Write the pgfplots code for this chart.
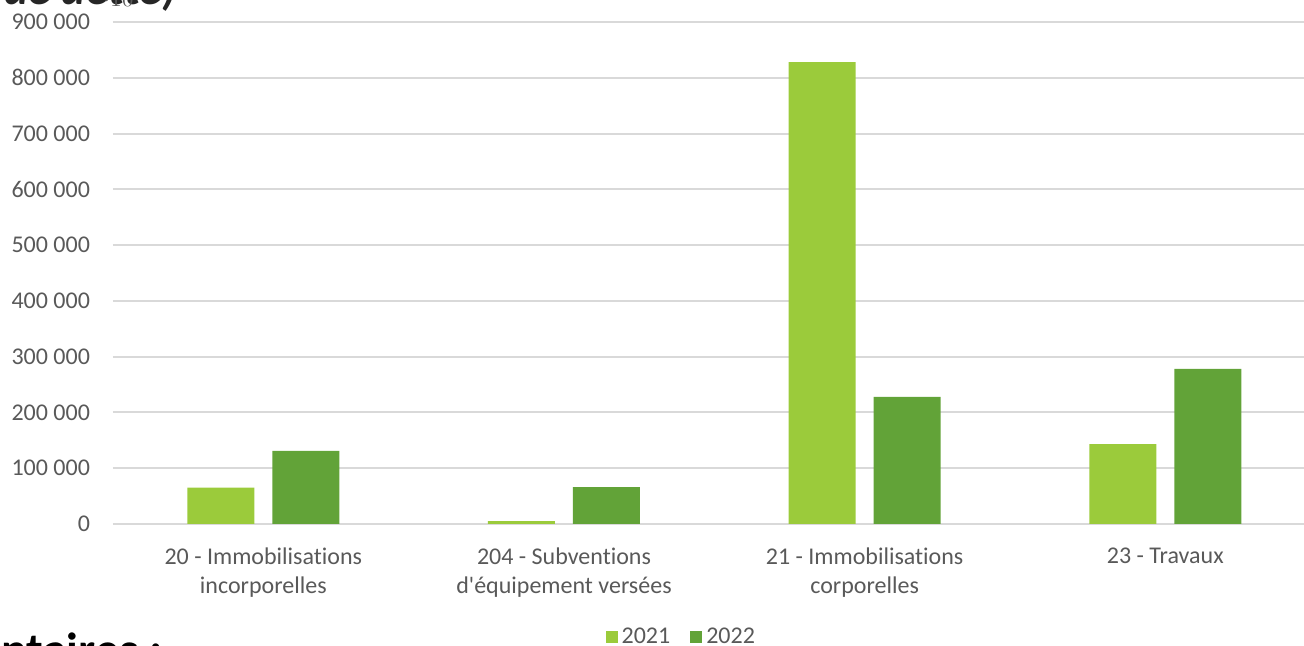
\documentclass[border=0pt]{standalone}
\usepackage{pgfplots}
\pgfplotsset{compat=1.18}
\usepackage{fontspec}
\setmainfont{Carlito}[Ligatures={TeXOff,NoCommon}]
\definecolor{vert21}{HTML}{9BCB3B}
\definecolor{vert22}{HTML}{62A338}
\definecolor{grille}{HTML}{D9D9D9}
\definecolor{texte}{HTML}{595959}

\begin{document}
\begin{tikzpicture}
\useasboundingbox (-56.5pt,-61pt) rectangle (595.5pt,262pt);
\clip (-56.5pt,-61pt) rectangle (595.5pt,262pt);
% bouts de texte du document autour du graphique
\node[anchor=base east, inner sep=0pt, font=\fontsize{23}{27}\selectfont\bfseries\itshape, text=black!85]
  at (32pt,259.5pt) {(hors remboursement de dette)};
\node[anchor=base east, inner sep=0pt, font=\fontsize{24}{28}\selectfont\bfseries, text=black]
  at (25pt,-71pt) {Commentaires :};
\begin{axis}[
  at={(0,0)}, anchor=south west,
  scale only axis,
  width=595.5pt, height=251pt,
  xmin=-0.5, xmax=3.4614,
  ymin=0, ymax=900000,
  axis line style={draw=none},
  tick style={draw=none},
  ymajorgrids,
  major grid style={grille, line width=1pt},
  ytick={0,100000,200000,300000,400000,500000,600000,700000,800000,900000},
  yticklabels={0,100 000,200 000,300 000,400 000,500 000,600 000,700 000,800 000,900 000},
  xtick={0,1,2,3},
  xticklabels={{20 - Immobilisations\\incorporelles},{204 - Subventions\\d'équipement versées},{21 - Immobilisations\\corporelles},{23 - Travaux}},
  xticklabel style={align=center, font=\fontsize{12}{14.5}\selectfont, text=texte, yshift=-8.5pt},
  yticklabel style={font=\fontsize{12}{14}\selectfont, text=texte, xshift=-8pt},
  legend style={at={(0.478,-0.225)}, anchor=center, draw=none, fill=none,
    font=\fontsize{12}{14}\selectfont, text=texte,
    /tikz/every even column/.append style={column sep=8pt}},
  legend columns=2,
  legend image code/.code={\fill[#1] (0pt,-3pt) rectangle (6pt,3pt);},
]
\addplot[ybar, bar width=33.5pt, bar shift=-21.25pt, fill=vert21, draw=none]
  coordinates {(0,65000) (1,5000) (2,828000) (3,143000)};
\addplot[ybar, bar width=33.5pt, bar shift=21.25pt, fill=vert22, draw=none]
  coordinates {(0,131000) (1,66000) (2,228000) (3,278000)};
\legend{2021,2022}
\end{axis}
\end{tikzpicture}
\end{document}
